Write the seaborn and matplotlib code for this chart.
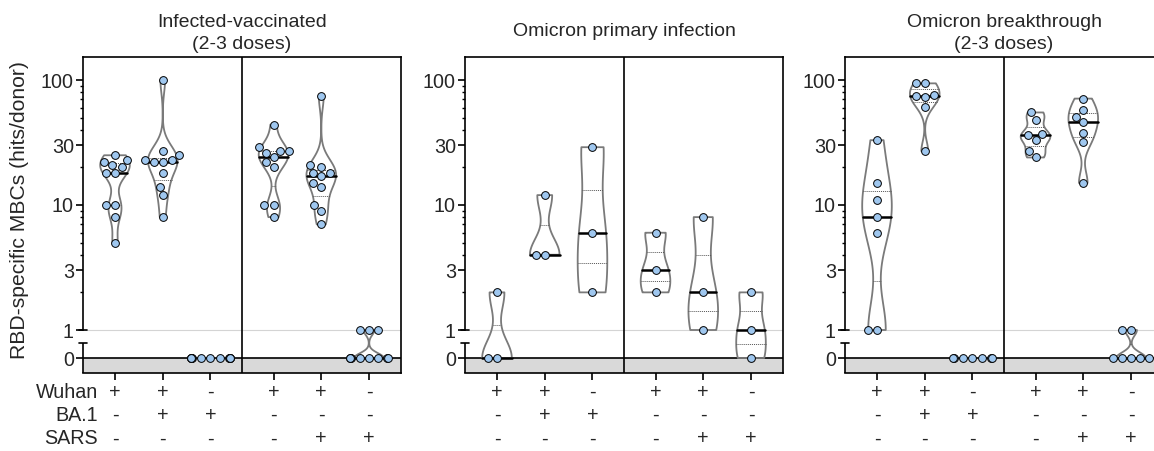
import numpy as np
import pandas as pd
import matplotlib
matplotlib.use("Agg")
import matplotlib.pyplot as plt
import seaborn as sns

# ---------------- data ----------------
panel_titles = ["Infected-vaccinated\n(2-3 doses)",
                "Omicron primary infection",
                "Omicron breakthrough\n(2-3 doses)"]

row_names = ["Wuhan", "BA.1", "SARS"]
wuhan = ["+", "+", "-", "+", "+", "-"]
ba1 = ["-", "+", "+", "-", "-", "-"]
sars = ["-", "-", "-", "-", "+", "+"]

infected_vaccinated = [
    [25, 23, 22, 21, 20, 18, 18, 10, 10, 8, 5],
    [100, 27, 25, 23, 23, 22, 22, 18, 14, 12, 8],
    [0, 0, 0, 0, 0, 0, 0, 0, 0, 0, 0],
    [44, 29, 27, 27, 26, 24, 22, 20, 10, 10, 8],
    [75, 21, 20, 18, 18, 17, 15, 14, 10, 9, 7],
    [1, 1, 1, 0, 0, 0, 0, 0, 0, 0, 0],
]
omicron_primary = [
    [2, 0, 0],
    [12, 4, 4],
    [29, 6, 2],
    [6, 3, 2],
    [8, 2, 1],
    [2, 1, 0],
]
omicron_breakthrough = [
    [33, 15, 11, 8, 6, 1, 1],
    [94, 94, 76, 75, 73, 61, 27],
    [0, 0, 0, 0, 0, 0, 0],
    [55, 48, 37, 36, 33, 27, 24],
    [71, 58, 51, 46, 38, 32, 15],
    [1, 1, 0, 0, 0, 0, 0],
]
panels = [infected_vaccinated, omicron_primary, omicron_breakthrough]

major_values = [0, 1, 3, 10, 30, 100]
minor_values = [2, 4, 5, 6, 7, 8, 9, 20, 40, 50, 60, 70, 80, 90]

# ---------------- layout / scale ----------------
positions = [0, 1, 2, 3.32, 4.32, 5.32]
DIVIDER = 2.66
XMIN, XMAX = -0.67, 5.99
ZERO_POS = -0.224      # where 0 sits on the broken axis
BREAK_LOW = -0.104     # lower end of the axis break
YMIN, YMAX = -0.344, 2.184


def to_axis(v):
    """Broken axis: log10 above 1, fixed slot for 0."""
    v = np.asarray(v, dtype=float)
    return np.where(v >= 1, np.log10(np.maximum(v, 1)), ZERO_POS)


sns.set_style("white")
plt.rcParams["font.family"] = ["Liberation Sans", "DejaVu Sans"]

W, H = 1154, 451
fig = plt.figure(figsize=(W / 100, H / 100), dpi=100)
lefts = [83, 465, 845]
axes = []

POINT_COLOR = "#9fc7ef"
VIOLIN_COLOR = "#7a7a7a"
LW = 1.2
TICK_FS = 14.2
ROW_LS = 1.29

for k, groups in enumerate(panels):
    ax = fig.add_axes([lefts[k] / W, (H - 373) / H, 318 / W, 316 / H])
    axes.append(ax)

    rows = []
    for pos, vals in zip(positions, groups):
        for v in vals:
            rows.append({"pos": pos, "value": v})
    df = pd.DataFrame(rows)
    df["y"] = to_axis(df["value"])
    varying = df.groupby("pos")["y"].transform("nunique") > 1
    vdf = df[varying]

    ax.axhspan(YMIN, ZERO_POS, color="#d9d9d9", lw=0, zorder=0)
    ax.axhline(0, color="#d4d4d4", lw=0.8, zorder=0.5)
    ax.axhline(ZERO_POS, color="black", lw=LW, zorder=1)
    ax.axvline(DIVIDER, color="black", lw=LW, zorder=1)

    n0 = len(ax.lines)
    sns.violinplot(data=vdf, x="pos", y="y", native_scale=True, orient="x",
                   cut=0, density_norm="width", width=0.62, bw_adjust=0.6,
                   inner="quart", fill=False, color=VIOLIN_COLOR,
                   linewidth=1.3, ax=ax, zorder=2)
    new_lines = ax.lines[n0:]
    for i, ln in enumerate(new_lines):
        if i % 3 == 1:
            ln.set_linestyle("-")
            ln.set_color("black")
            ln.set_linewidth(1.8)
        else:
            ln.set_linestyle((0, (1, 1)))
            ln.set_color("#555555")
            ln.set_linewidth(0.7)
        ln.set_zorder(3)

    sns.swarmplot(data=df, x="pos", y="y", native_scale=True, orient="x",
                  color=POINT_COLOR, edgecolor="black", linewidth=0.7,
                  size=5.6, ax=ax, zorder=5, warn_thresh=1)

    ax.set_xlim(XMIN, XMAX)
    ax.set_ylim(YMIN, YMAX)
    ax.set_xlabel("")
    ax.set_ylabel("")

    ax.set_xticks(positions)
    ax.set_xticklabels([f"{a}\n{b}\n{c}" for a, b, c in zip(wuhan, ba1, sars)],
                       fontsize=TICK_FS, linespacing=ROW_LS)
    ax.set_yticks(to_axis(major_values))
    ax.set_yticklabels([str(v) for v in major_values], fontsize=TICK_FS)
    ax.set_yticks(to_axis(minor_values), minor=True)
    ax.tick_params(axis="x", which="both", bottom=True, length=5, width=LW,
                   direction="out", pad=2, color="black")
    ax.tick_params(axis="y", which="major", left=True, length=5, width=LW,
                   direction="out", pad=1.5, color="black")
    ax.tick_params(axis="y", which="minor", left=True, length=2.5, width=1.0,
                   direction="out", color="black")

    for name, sp in ax.spines.items():
        sp.set_visible(True)
        sp.set_color("black")
        sp.set_linewidth(LW)
    ax.spines["left"].set_bounds(0, YMAX)
    ytr = ax.get_yaxis_transform()
    ax.plot([0, 0], [YMIN, BREAK_LOW], transform=ytr, color="black", lw=LW,
            clip_on=False, solid_capstyle="butt", zorder=6)
    for yb in (0, BREAK_LOW):
        ax.plot([-0.012, 0.012], [yb, yb], transform=ytr, color="black",
                lw=LW, clip_on=False, zorder=6)

    if "\n" in panel_titles[k]:
        ax.set_title(panel_titles[k], fontsize=14, pad=6, linespacing=1.38)
    else:
        ax.set_title(panel_titles[k], fontsize=14, pad=14.8)

fig.text(20 / W, 1 - 210 / H, "RBD-specific MBCs (hits/donor)", rotation=90,
         ha="center", va="center", fontsize=15.2)

fig.canvas.draw()
bb = axes[0].get_xticklabels()[0].get_window_extent()
fig.text(98 / W, bb.y1 / fig.bbox.height, "\n".join(row_names),
         ha="right", va="top", fontsize=TICK_FS, linespacing=ROW_LS)

fig.savefig("out.png", dpi=100)
